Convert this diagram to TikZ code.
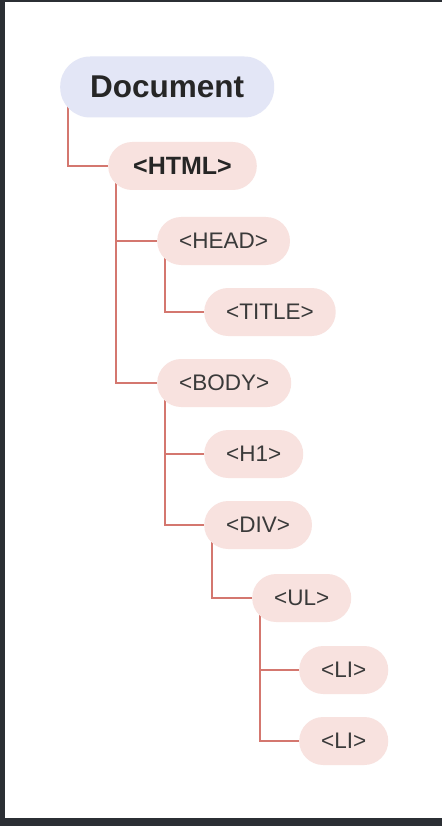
\documentclass[tikz,border=0pt]{standalone}
\usepackage{fontspec}
\setsansfont{Liberation Sans}
\usetikzlibrary{backgrounds}

\definecolor{doclav}{HTML}{E3E6F6}
\definecolor{tagpink}{HTML}{F8E2DF}
\definecolor{linkred}{HTML}{D4776F}
\definecolor{tagtext}{HTML}{3A3A3A}
\definecolor{framedark}{HTML}{2B2F34}

\tikzset{
	docbox/.style={rectangle, rounded corners=30pt, fill=doclav, minimum height=61pt, inner xsep=30pt, anchor=west, text=black!85, font=\sffamily\bfseries\fontsize{31.5}{38}\selectfont},
	tag/.style={rectangle, rounded corners=24pt, fill=tagpink, minimum height=48pt, inner xsep=22pt, anchor=west, text=tagtext, font=\sffamily\fontsize{22.5}{27}\selectfont},
	link/.style={draw=linkred, line width=2.3pt}
}

\begin{document}
\begin{tikzpicture}[x=1pt, y=-1pt]
	\useasboundingbox (0,0) rectangle (442,826);
	% tree
	\node[docbox] (doc) at (60,87) {Document};
	\node[tag, inner xsep=25pt, font=\sffamily\bfseries\fontsize{25}{30}\selectfont, text=black!85] (html) at (108,166) {<HTML>};
	\node[tag] (head) at (157,241) {<HEAD>};
	\node[tag] (title) at (204,312) {<TITLE>};
	\node[tag] (body) at (157,383) {<BODY>};
	\node[tag] (h1) at (204,454) {<H1>};
	\node[tag] (div) at (204,525) {<DIV>};
	\node[tag] (ul) at (252,598) {<UL>};
	\node[tag] (li1) at (299,670) {<LI>};
	\node[tag] (li2) at (299,741) {<LI>};
	\begin{pgfonlayer}{background}
		% frame of the screenshot
		\fill[framedark] (0,0) rectangle (442,826);
		\fill[white] (5,2) rectangle (442,818);
		% connectors, behind the boxes
		\draw[link] ([xshift=8pt]doc.west) |- (html.west);
		\foreach \p/\c in {html/head, html/body, head/title, body/h1, body/div, div/ul, ul/li1, ul/li2} {\draw[link] ([xshift=8pt]\p.west) |- (\c.west);}
	\end{pgfonlayer}
\end{tikzpicture}
\end{document}
